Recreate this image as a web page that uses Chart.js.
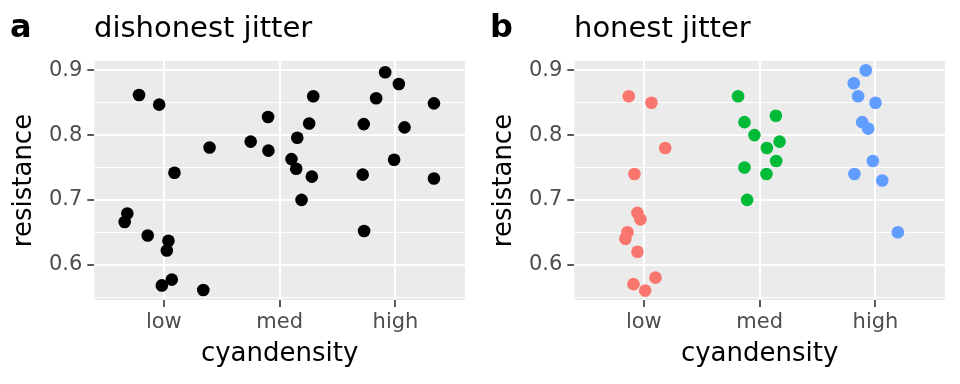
<!DOCTYPE html>
<html>
<head>
<meta charset="utf-8">
<script src="https://cdn.jsdelivr.net/npm/chart.js@4"></script>
<style>
  body { margin: 0; background: #fff; }
  .panel { position: absolute; top: 0; width: 480px; height: 384px; }
</style>
</head>
<body>
<div class="panel" style="left:0"><canvas id="chart-a" width="480" height="384"></canvas></div>
<div class="panel" style="left:480px"><canvas id="chart-b" width="480" height="384"></canvas></div>
<script>
const categories = ['low', 'med', 'high'];
const yTicks = [0.55, 0.6, 0.65, 0.7, 0.75, 0.8, 0.85, 0.9];

// panel a: jittered in both directions
const aX = [0.786, 0.960, 2.911, 3.029, 2.833, 3.332, 2.290, 1.900, 2.255, 2.726, 3.078, 2.152, 1.750, 1.395, 1.903, 2.102,
            2.988, 2.143, 1.092, 2.278, 2.717, 3.332, 2.189, 0.685, 0.662, 0.861, 1.040, 1.026, 2.729, 0.983, 1.069, 1.341];
const aY = [0.862, 0.847, 0.897, 0.879, 0.857, 0.849, 0.860, 0.828, 0.818, 0.817, 0.812, 0.796, 0.790, 0.781, 0.776, 0.763,
            0.762, 0.748, 0.742, 0.736, 0.739, 0.733, 0.700, 0.679, 0.666, 0.645, 0.637, 0.622, 0.652, 0.568, 0.577, 0.561];

// panel b: jittered horizontally only
const lowX = [0.870, 1.066, 1.185, 0.919, 0.945, 0.971, 0.859, 0.841, 0.945, 1.101, 0.911, 1.012];
const lowY = [0.86, 0.85, 0.78, 0.74, 0.68, 0.67, 0.65, 0.64, 0.62, 0.58, 0.57, 0.56];
const medX = [1.814, 2.140, 1.869, 1.955, 2.172, 2.062, 2.143, 1.869, 2.059, 1.892];
const medY = [0.86, 0.83, 0.82, 0.80, 0.79, 0.78, 0.76, 0.75, 0.74, 0.70];
const highX = [2.916, 2.812, 2.850, 3.000, 2.885, 2.937, 2.977, 2.818, 3.058, 3.193];
const highY = [0.90, 0.88, 0.86, 0.85, 0.82, 0.81, 0.76, 0.74, 0.73, 0.65];

const FONT = "'DejaVu Sans', sans-serif";

function toPoints(xs, ys) {
  return xs.map((x, i) => ({ x: x, y: ys[i] }));
}

function isMajor(v) {
  return Math.abs(v * 10 - Math.round(v * 10)) < 1e-6;
}

// grey panel behind the grid + tag and title on top
const panelBg = {
  id: 'panelBg',
  beforeDraw(chart) {
    const { ctx, chartArea: a } = chart;
    ctx.save();
    ctx.fillStyle = '#EBEBEB';
    ctx.fillRect(a.left, a.top, a.right - a.left, a.bottom - a.top);
    ctx.restore();
  },
  afterDraw(chart, args, opts) {
    const ctx = chart.ctx;
    ctx.save();
    ctx.fillStyle = '#000';
    ctx.textBaseline = 'alphabetic';
    ctx.font = "bold 32px " + FONT;
    ctx.fillText(opts.tag, 10, 37);
    ctx.font = "29px " + FONT;
    ctx.fillText(opts.title, 94, 37);
    ctx.restore();
  }
};

function makePanel(id, tag, title, datasets) {
  return new Chart(document.getElementById(id), {
    type: 'scatter',
    data: { datasets: datasets },
    plugins: [panelBg],
    options: {
      responsive: false,
      animation: false,
      layout: { padding: { top: 61, right: 15, bottom: 0, left: 0 } },
      elements: { point: { radius: 6.3, borderWidth: 0, hoverRadius: 6.3 } },
      plugins: {
        legend: { display: false },
        tooltip: { enabled: false },
        panelBg: { tag: tag, title: title }
      },
      scales: {
        x: {
          type: 'linear',
          min: 0.4,
          max: 3.6,
          afterBuildTicks: scale => { scale.ticks = categories.map((c, i) => ({ value: i + 1 })); },
          afterFit: scale => { scale.height = 84; },
          ticks: {
            callback: (v, i) => categories[i],
            color: '#4D4D4D',
            font: { family: FONT, size: 21 },
            padding: 2.5,
            maxRotation: 0
          },
          grid: { color: '#FFFFFF', lineWidth: 2, tickColor: '#333333', tickWidth: 1.6, tickLength: 7 },
          border: { display: false },
          title: {
            display: true,
            text: 'cyandensity',
            color: '#000',
            font: { family: FONT, size: 26 },
            padding: { top: 0, bottom: 14 }
          }
        },
        y: {
          type: 'linear',
          min: 0.5455,
          max: 0.9144,
          afterBuildTicks: scale => { scale.ticks = yTicks.map(v => ({ value: v })); },
          afterFit: scale => { scale.width = 94.3; },
          ticks: {
            callback: v => isMajor(v) ? v.toFixed(1) : '',
            color: '#4D4D4D',
            font: { family: FONT, size: 21 },
            padding: 5
          },
          grid: {
            color: '#FFFFFF',
            lineWidth: c => isMajor(c.tick.value) ? 2 : 1.1,
            tickColor: c => isMajor(c.tick.value) ? '#333333' : 'rgba(0,0,0,0)',
            tickWidth: 1.6,
            tickLength: 7
          },
          border: { display: false },
          title: {
            display: true,
            text: 'resistance',
            color: '#000',
            font: { family: FONT, size: 26 },
            padding: { top: 8.7, bottom: 0 }
          }
        }
      }
    }
  });
}

makePanel('chart-a', 'a', 'dishonest jitter', [
  { data: toPoints(aX, aY), backgroundColor: '#000000' }
]);

makePanel('chart-b', 'b', 'honest jitter', [
  { data: toPoints(lowX, lowY), backgroundColor: '#F8766D' },
  { data: toPoints(medX, medY), backgroundColor: '#00BA38' },
  { data: toPoints(highX, highY), backgroundColor: '#619CFF' }
]);
</script>
</body>
</html>
